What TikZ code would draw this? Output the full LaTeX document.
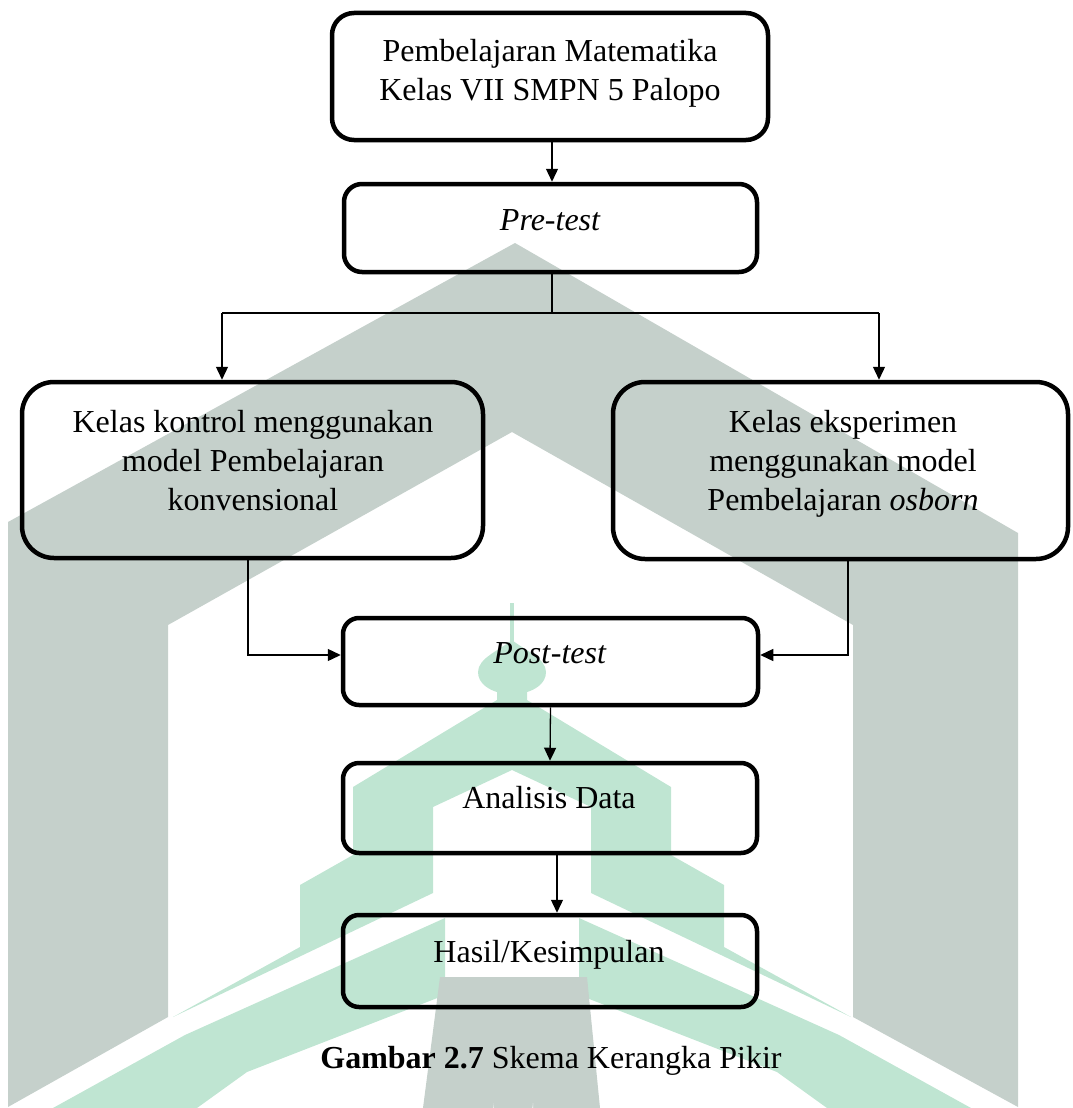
\documentclass[tikz,border=0pt]{standalone}
\usepackage{fontspec}
\setmainfont{Liberation Serif}
\usetikzlibrary{arrows.meta,calc}
\definecolor{wmgrey}{RGB}{197,208,203}
\definecolor{wmgreen}{RGB}{191,229,210}
\tikzset{
  flowbox/.style={draw=black, line width=4.5pt, rounded corners=#1},
  flowbox/.default=16pt,
  txt/.style={anchor=base, inner sep=0pt, font=\fontsize{32}{38}\selectfont},
  conn/.style={line width=1.3pt},
  arr/.style={conn, -{Triangle[length=13pt,width=12pt]}}
}
\begin{document}
\begin{tikzpicture}[x=1pt,y=-1pt]
\useasboundingbox (0,0) rectangle (1072,1108);
% ---- watermark (background) ----
\fill[wmgrey] (8,1107) -- (8,522) -- (515,243) -- (1018,533) -- (1018,1107)
  -- (853,1017) -- (853,625) -- (512,432) -- (168,625) -- (168,1017) -- cycle;
\fill[wmgreen] (510,603) rectangle (514,645);
\fill[wmgreen] (512,640) .. controls (500,650) and (478,658) .. (478,672)
  .. controls (478,684) and (490,690) .. (497,692) -- (497,700)
  -- (353,787) -- (353,855) -- (300,885) -- (300,947) -- (173,1017)
  -- (433,893) -- (433,807) -- (512,770) -- (591,807) -- (591,893)
  -- (851,1017) -- (724,947) -- (724,885) -- (671,855) -- (671,787)
  -- (527,700) -- (527,692) .. controls (534,690) and (546,684) .. (546,672)
  .. controls (546,658) and (524,650) .. (512,640) -- cycle;
\fill[wmgreen] (445,918) -- (185,1035) -- (53,1108) -- (197,1108) -- (247,1072) -- (445,995) -- cycle;
\fill[wmgreen] (579,918) -- (839,1035) -- (971,1108) -- (827,1108) -- (777,1072) -- (579,995) -- cycle;
\fill[wmgrey] (440,977) -- (587,977) -- (600,1108) -- (423,1108) -- cycle;
\fill[white] (493,1108) -- (493,1103) arc[start angle=180,end angle=0,radius=20] -- (533,1108) -- cycle;
% ---- boxes ----
\node[flowbox=22pt, minimum width=436pt, minimum height=127pt, inner sep=0pt] (b1) at (550,76.5) {};
\node[flowbox=18pt, minimum width=413pt, minimum height=88pt, inner sep=0pt] (b2) at (550.5,228) {};
\node[flowbox=32pt, minimum width=461pt, minimum height=176pt, inner sep=0pt] (b3) at (252.5,470) {};
\node[flowbox=32pt, minimum width=455pt, minimum height=177pt, inner sep=0pt] (b4) at (840.5,470.5) {};
\node[flowbox=16pt, minimum width=415pt, minimum height=87pt, inner sep=0pt] (b5) at (550.5,661.5) {};
\node[flowbox=16pt, minimum width=414pt, minimum height=90pt, inner sep=0pt] (b6) at (550,808) {};
\node[flowbox=16pt, minimum width=414pt, minimum height=92pt, inner sep=0pt] (b7) at (550,961) {};
% ---- texts ----
\node[txt] (t1a) at (550,62) {Pembelajaran Matematika};
\node[txt] (t1b) at (550,100) {Kelas VII SMPN 5 Palopo};
\node[txt] (t2) at (550,230) {\itshape Pre-test};
\node[txt] (t3a) at (253,432) {Kelas kontrol menggunakan};
\node[txt] (t3b) at (253,471) {model Pembelajaran};
\node[txt] (t3c) at (253,510) {konvensional};
\node[txt] (t4a) at (843,432) {Kelas eksperimen};
\node[txt] (t4b) at (843,471) {menggunakan model};
\node[txt] (t4c) at (843,510) {Pembelajaran \textit{osborn}};
\node[txt] (t5) at (550,663) {\textit{Post}-\textit{test}};
\node[txt] (t6) at (549,808) {Analisis Data};
\node[txt] (t7) at (549,962) {Hasil/Kesimpulan};
\node[txt] (cap) at (551,1068) {\textbf{Gambar 2.7} Skema Kerangka Pikir};
% ---- connectors ----
\coordinate (j) at (552,313);
\coordinate (jl) at (222,313);
\coordinate (jr) at (879,313);
\coordinate (cl) at (248,655);
\coordinate (cr) at (848,655);
\draw[arr] (b1.south -| j) -- (b2.north -| j);
\draw[conn] (b2.south -| j) -- (j);
\draw[conn] (jl) -- (jr);
\draw[arr] (jl) -- (jl |- b3.north);
\draw[arr] (jr) -- (jr |- b4.north);
\draw[arr] (cl |- b3.south) -- (cl) -- (cl -| b5.west);
\draw[arr] (cr |- b4.south) -- (cr) -- (cr -| b5.east);
\draw[arr] (b5.south) -- (b6.north);
\coordinate (k) at (557,880);
\draw[arr] (b6.south -| k) -- (b7.north -| k);
\end{tikzpicture}
\end{document}
